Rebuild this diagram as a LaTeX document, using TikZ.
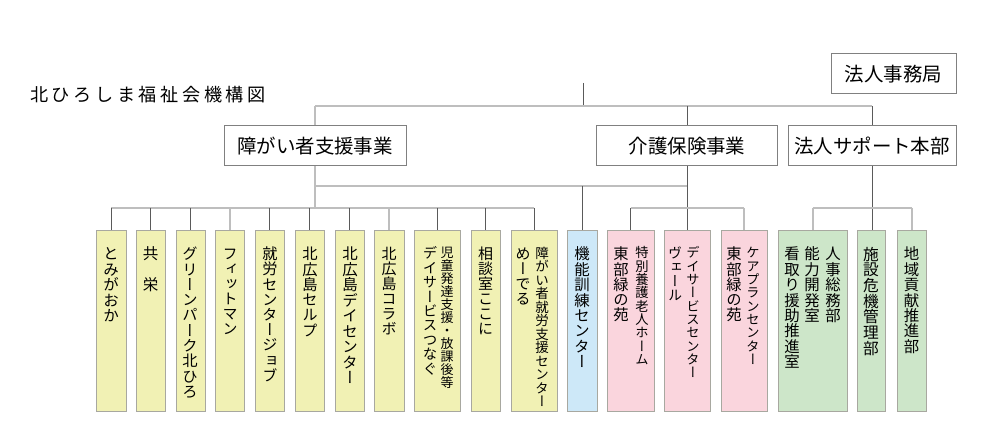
\documentclass[tikz,border=0pt]{standalone}
\usepackage{fontspec}
\setmainfont{Noto Sans CJK JP}
\newfontfamily\jp{Noto Sans CJK JP}
\newfontfamily\vjp[RawFeature=+vert]{Noto Sans CJK JP}
\newlength\vem
\let\vcolEnd\relax
\def\vcolA#1{\ifx#1\vcolEnd\else\hbox to\vem{\vrule height.88\vem depth.12\vem width0pt\hss#1\hss}\expandafter\vcolA\fi}
\newcommand\vcol[2][15.4]{%
  \pgfmathsetlength\vem{#1*0.75pt}%
  \vtop{\vjp\fontsize{\the\vem}{\the\vem}\selectfont
    \baselineskip=\vem \lineskiplimit=-\maxdimen \lineskip=0pt
    \vcolA#2\vcolEnd}}
\def\spA#1{\ifx#1\vcolEnd\else#1\kern2.7pt\expandafter\spA\fi}
\newcommand\spaced[1]{\spA#1\vcolEnd}
\definecolor{cyel}{HTML}{F1F1B4}
\definecolor{cblu}{HTML}{CDE8F8}
\definecolor{cpnk}{HTML}{FAD5DD}
\definecolor{cgrn}{HTML}{CDE6C9}
\definecolor{cbrd}{HTML}{A8A8A0}
\definecolor{ctop}{HTML}{808080}
\definecolor{clt}{HTML}{BEBEBE}
\definecolor{cdk}{HTML}{5A5A5A}
\tikzset{
  lt/.style={draw=clt, line width=1.5pt},
  dk/.style={draw=cdk, line width=0.75pt},
  tbox/.style={draw=ctop, line width=0.75pt, fill=white, inner sep=0pt, font=\jp\fontsize{14.6pt}{16pt}\selectfont},
  cbase/.style={draw=cbrd, line width=0.75pt, inner sep=0pt, minimum height={181*0.75pt}},
  ybox/.style={cbase, fill=cyel},
  bbox/.style={cbase, fill=cblu},
  pbox/.style={cbase, fill=cpnk},
  gbox/.style={cbase, fill=cgrn},
  vt/.style={inner sep=0pt, anchor=north, text=black},
}
\newcommand\cbox[4]{\node[#2, minimum width={(#4-#3)*0.75pt}] (#1) at ({(#3+#4)/2},321.5) {};}
\begin{document}
\begin{tikzpicture}[x=0.75pt,y=-0.75pt]
\useasboundingbox (0,0) rectangle (1000,448);
% title
\node[anchor=west, inner sep=0pt, font=\jp\fontsize{13.6pt}{15pt}\selectfont] (title) at (30,95) {\spaced{北ひろしま福祉会機構図}};
% top boxes
\node[tbox, minimum width={125*0.75pt}, minimum height={40*0.75pt}] (jim) at (893.5,74) {法人事務局};
\node[tbox, minimum width={182*0.75pt}, minimum height={40*0.75pt}] (sho) at (315,146) {障がい者支援事業};
\node[tbox, minimum width={181*0.75pt}, minimum height={40*0.75pt}] (kai) at (687,146) {介護保険事業};
\node[tbox, minimum width={168*0.75pt}, minimum height={40*0.75pt}] (hs) at (872,146) {法人サポート本部};
% coordinates
\coordinate (root) at (583,83);
\coordinate (j) at (583,106);
\coordinate (mid) at (0,186);
\coordinate (bus) at (0,208);
% child boxes
\cbox{b1}{ybox}{96}{126}
\cbox{b2}{ybox}{136}{165}
\cbox{b3}{ybox}{176}{205}
\cbox{b4}{ybox}{215}{244}
\cbox{b5}{ybox}{255}{284}
\cbox{b6}{ybox}{295}{324}
\cbox{b7}{ybox}{335}{364}
\cbox{b8}{ybox}{374}{404}
\cbox{b9}{ybox}{414}{460}
\cbox{b10}{ybox}{471}{500}
\cbox{b11}{ybox}{511}{557}
\cbox{b12}{bbox}{567}{597}
\cbox{b13}{pbox}{607}{654}
\cbox{b14}{pbox}{664}{710}
\cbox{b15}{pbox}{721}{767}
\cbox{b16}{gbox}{778}{847}
\cbox{b17}{gbox}{857}{885}
\cbox{b18}{gbox}{897}{926}
% connectors: top level
\draw[dk] (root) -- (j);
\draw[lt] (sho.north |- j) -- (hs.north |- j);
\draw[lt] (sho.north |- j) -- (sho.north);
\draw[dk] (kai.north |- j) -- (kai.north);
\draw[dk] (hs.north |- j) -- (hs.north);
% disability branch
\draw[lt] (sho.south) -- (sho.south |- bus);
\draw[lt] (b1.north |- bus) -- (b11.north |- bus);
\draw[dk] (b1.north |- bus) -- (b1.north);
\draw[dk] (b2.north |- bus) -- (b2.north);
\draw[dk] (b3.north |- bus) -- (b3.north);
\draw[lt] (b4.north |- bus) -- (b4.north);
\draw[dk] (b5.north |- bus) -- (b5.north);
\draw[dk] (b6.north |- bus) -- (b6.north);
\draw[dk] (b7.north |- bus) -- (b7.north);
\draw[lt] (b8.north |- bus) -- (b8.north);
\draw[dk] (b9.north |- bus) -- (b9.north);
\draw[dk] (b10.north |- bus) -- (b10.north);
\draw[dk] (b11.north |- bus) -- (b11.north);
% mid line and blue box
\draw[lt] (sho.south |- mid) -- (kai.south |- mid);
\draw[dk] (b12.north |- mid) -- (b12.north);
% care branch
\draw[dk] (kai.south) -- (kai.south |- b14.north);
\draw[lt] (b13.north |- bus) -- (b15.north |- bus);
\draw[dk] (b13.north |- bus) -- (b13.north);
\draw[lt] (b15.north |- bus) -- (b15.north);
% support branch
\draw[dk] (hs.south) -- (hs.south |- b17.north);
\draw[lt] (b16.north |- bus) -- (b18.north |- bus);
\draw[lt] (b16.north |- bus) -- (b16.north);
\draw[lt] (b18.north |- bus) -- (b18.north);
% vertical texts
\node[vt] (t1) at (111,246) {\vcol[15.5]{とみがおか}};
\node[vt] (t2) at (150.5,246) {\vcol[15.5]{共　栄}};
\node[vt] (t3) at (190,246) {\vcol[15.3]{グリーンパーク北ひろ}};
\node[vt] (t4) at (230,246) {\vcol[15]{フィットマン}};
\node[vt] (t5) at (270,246) {\vcol[15.2]{就労センタージョブ}};
\node[vt] (t6) at (310,246) {\vcol[15.3]{北広島セルプ}};
\node[vt] (t7) at (350,246) {\vcol[15.5]{北広島デイセンター}};
\node[vt] (t8) at (389,246) {\vcol[15]{北広島コラボ}};
\node[vt] (t9a) at (447,246) {\vcol[13]{児童発達支援・放課後等}};
\node[vt] (t9b) at (430,246) {\vcol[14.4]{デイサービスつなぐ}};
\node[vt] (t10) at (485.5,246) {\vcol[15]{相談室ここに}};
\node[vt] (t11a) at (542,246) {\vcol[13.5]{障がい者就労支援センター}};
\node[vt] (t11b) at (523,246) {\vcol[15]{めーでる}};
\node[vt] (t12) at (582,246) {\vcol[15.4]{機能訓練センター}};
\node[vt] (t13a) at (642,246) {\vcol[13.3]{特別養護老人ホーム}};
\node[vt] (t13b) at (621,246) {\vcol[15.3]{東部緑の苑}};
\node[vt] (t14a) at (693,246) {\vcol[13.3]{デイサービスセンター}};
\node[vt] (t14b) at (675,246) {\vcol[14]{ヴェール}};
\node[vt] (t15a) at (753,246) {\vcol[13.3]{ケアプランセンター}};
\node[vt] (t15b) at (734,246) {\vcol[15.3]{東部緑の苑}};
\node[vt] (t16a) at (833,246) {\vcol[15.4]{人事総務部}};
\node[vt] (t16b) at (812,246) {\vcol[15.4]{能力開発室}};
\node[vt] (t16c) at (792,246) {\vcol[15.4]{看取り援助推進室}};
\node[vt] (t17) at (871,246) {\vcol[15.7]{施設危機管理部}};
\node[vt] (t18) at (911.5,246) {\vcol[15.4]{地域貢献推進部}};
\end{tikzpicture}
\end{document}
